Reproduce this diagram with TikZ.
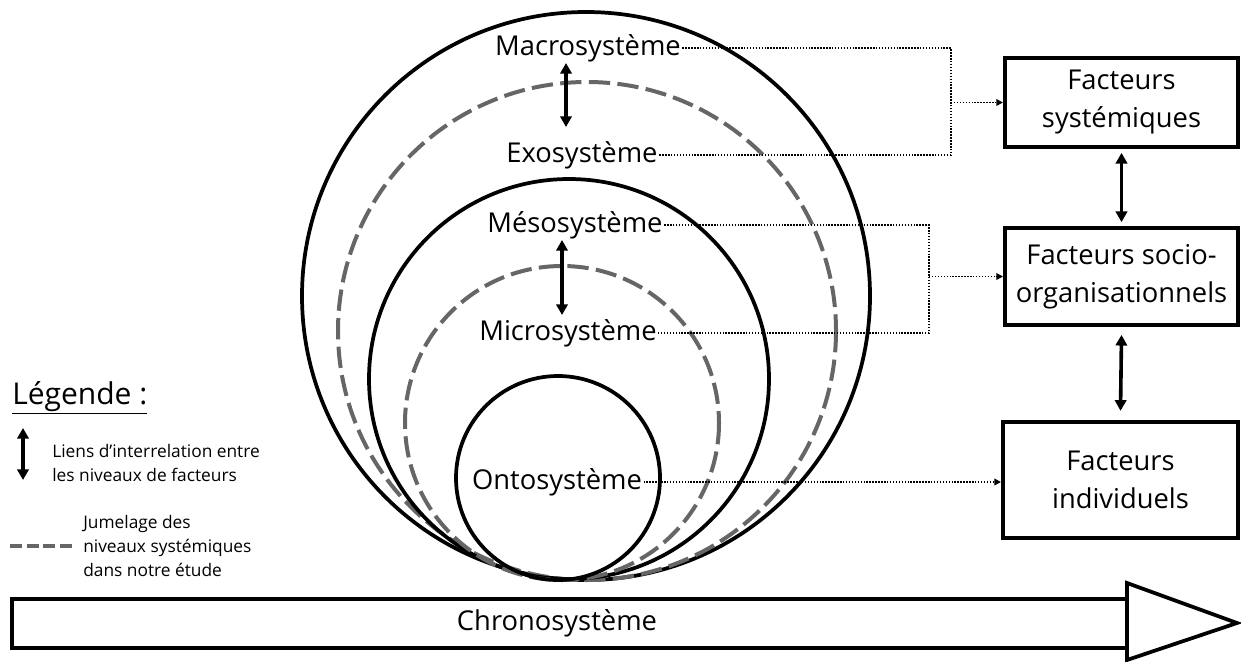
\documentclass[tikz,border=0pt]{standalone}
\usepackage{fontspec}
\setmainfont{Open Sans}
\usetikzlibrary{arrows.meta}
\definecolor{twingray}{HTML}{666666}

\begin{document}
\begin{tikzpicture}[x=0.75pt,y=-0.75pt,
    level/.style={font=\fontsize{20.5}{28.5}\selectfont, inner sep=1pt},
    ring/.style={line width=2.8pt},
    twin/.style={line width=3pt, draw=twingray, dash pattern=on 16pt off 5.5pt},
    facbox/.style={draw, line width=2.8pt, align=center, inner sep=0pt,
        font=\fontsize{20.5}{28.5}\selectfont, minimum width=175pt},
    dotlink/.style={line width=1.2pt, dash pattern=on 1.1pt off 1.1pt},
    dottip/.style={-{Triangle[length=5pt,width=5pt]}},
    link/.style={line width=2.7pt, {Triangle[length=8pt,width=8.5pt]}-{Triangle[length=8pt,width=8.5pt]}},
    legtext/.style={font=\fontsize{13}{18}\selectfont, align=left, anchor=west, inner sep=0pt}]
    \useasboundingbox (0,0) rectangle (1241,661);
    % nested systems
    \draw[ring] (586,296) circle (284);
    \draw[twin] (587,331) circle (249);
    \draw[ring] (569,379) circle (200);
    \draw[twin] (562,423) circle (157);
    \draw[ring] (558,478) circle (102);
    \node[level] (macro) at (588,48) {Macrosystème};
    \node[level] (exo) at (582,155) {Exosystème};
    \node[level] (meso) at (575,225) {Mésosystème};
    \node[level] (micro) at (568,333) {Microsystème};
    \node[level] (onto) at (557,482) {Ontosystème};
    \draw[link] (566,63) -- (566,127);
    \draw[link] (562,240) -- (562,315);
    % factor boxes
    \node[facbox, minimum height=66.75pt] (facsys) at (1121.5,102.5) {Facteurs\\systémiques};
    \node[facbox, minimum height=72.75pt] (facsoc) at (1121.5,276.5) {Facteurs socio-\\organisationnels};
    \node[facbox, minimum height=87pt, minimum width=176.5pt] (facind) at (1120.5,480) {Facteurs\\individuels};
    \draw[link] ([yshift=-3]facsys.south) -- ([yshift=3]facsoc.north);
    \draw[link] ([yshift=-6]facsoc.south) -- ([yshift=7]facind.north);
    % dotted links
    \coordinate (sysjoin) at (951,102.5);
    \coordinate (socjoin) at (929,276.5);
    \draw[dotlink] (macro.east) -- (macro.east -| sysjoin) -- (exo.east -| sysjoin) -- (exo.east);
    \draw[dotlink, dottip] (sysjoin) -- (facsys.west);
    \draw[dotlink] (meso.east) -- (meso.east -| socjoin) -- (micro.east -| socjoin) -- (micro.east);
    \draw[dotlink, dottip] (socjoin) -- (facsoc.west);
    \draw[dotlink, dottip] (onto.east) -- (onto.east -| facind.west);
    % chronosystem
    \draw[line width=3pt] (12,599) rectangle (1127,648);
    \draw[ring] (1127,583) -- (1237,623) -- (1127,660) -- cycle;
    \node[level] (chrono) at (557,623) {Chronosystème};
    % legend
    \node[anchor=west, inner sep=0pt, font=\fontsize{22.5}{26}\selectfont] (legend) at (12,398) {\underline{Légende :}};
    \draw[link] (23,428) -- (23,480);
    \node[legtext] (leglinks) at (52,463) {Liens d’interrelation entre\\les niveaux de facteurs};
    \draw[line width=3pt, twingray, dash pattern=on 9pt off 3.5pt] (10,546) -- (72,546);
    \node[legtext] (legtwin) at (83,546) {Jumelage des\\niveaux systémiques\\dans notre étude};
\end{tikzpicture}
\end{document}
